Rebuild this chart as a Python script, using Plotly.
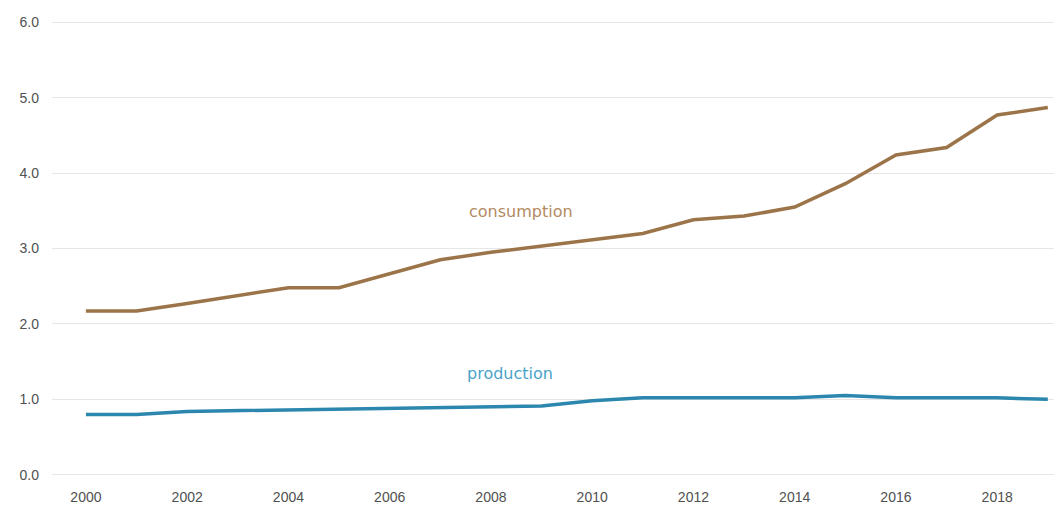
import plotly.graph_objects as go

years = list(range(2000, 2020))
consumption = [2.17, 2.17, 2.27, 2.38, 2.48, 2.48, 2.67, 2.85, 2.95, 3.03, 3.12, 3.20,
               3.38, 3.43, 3.55, 3.86, 4.24, 4.34, 4.77, 4.87]
production = [0.80, 0.80, 0.84, 0.85, 0.86, 0.87, 0.88, 0.90, 0.91, 0.91, 0.98, 1.02,
              1.02, 1.02, 1.02, 1.05, 1.02, 1.02, 1.02, 1.00]
y_ticks = [0, 1, 2, 3, 4, 5, 6]
x_ticks = list(range(2000, 2020, 2))

brown = "#9C7449"
blue = "#2B87AE"

fig = go.Figure()
fig.add_trace(go.Scatter(x=years, y=consumption, mode="lines", name="consumption",
                         line=dict(color=brown, width=3.5)))
fig.add_trace(go.Scatter(x=years, y=production, mode="lines", name="production",
                         line=dict(color=blue, width=3.5)))

fig.add_annotation(x=2008.6, y=3.49, text="consumption", showarrow=False,
                   font=dict(color="#B38A62", size=16, family="DejaVu Sans"))
fig.add_annotation(x=2008.37, y=1.34, text="production", showarrow=False,
                   font=dict(color="#4AA3C8", size=16, family="DejaVu Sans"))

fig.update_layout(
    width=1054, height=504,
    margin=dict(l=44, r=0, t=12, b=35),
    paper_bgcolor="white", plot_bgcolor="white",
    showlegend=False,
    font=dict(family="Liberation Sans", size=14, color="#505050"),
)
fig.update_xaxes(range=[1999.33, 2019.28], tickvals=x_ticks, showgrid=False,
                 zeroline=False, showline=False, ticks="", ticklabelstandoff=10)
fig.update_yaxes(range=[-0.03, 6.03], tickvals=y_ticks, tickformat=".1f", showgrid=True,
                 gridcolor="#E6E6E6", gridwidth=1, zeroline=False, showline=False,
                 ticks="", ticklabelstandoff=12)

fig.write_html("out.html")
